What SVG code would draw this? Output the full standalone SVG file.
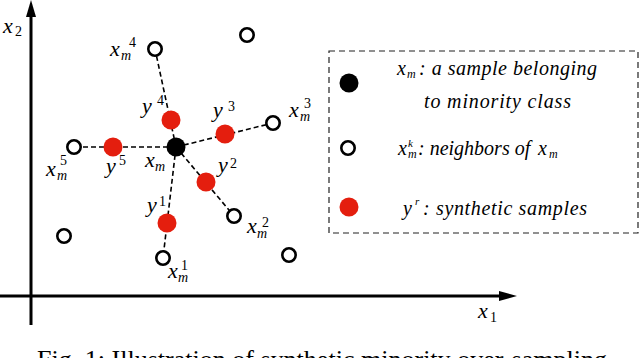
<svg xmlns="http://www.w3.org/2000/svg" width="640" height="358" viewBox="0 0 640 358">
<style>
.ax{stroke:#000;stroke-width:3;fill:none}
.ah{fill:#000}
.dash{stroke:#000;stroke-width:1.6;stroke-dasharray:5 3;fill:none}
.open{fill:#fff;stroke:#000;stroke-width:2.6}
.blk{fill:#000}
.red{fill:#e41e0e}
.m{font-family:"Liberation Serif","DejaVu Serif",serif;font-style:italic;font-size:22px;fill:#000}
.s{font-size:14px}
.d{font-style:normal;font-size:14px}
.lg{font-family:"Liberation Serif","DejaVu Serif",serif;font-style:italic;font-size:20px;fill:#000}
.cap{font-family:"Liberation Serif",serif;font-size:26px;fill:#000}
.box{fill:none;stroke:#222;stroke-width:1.2;stroke-dasharray:6 4}
</style>
<rect width="640" height="358" fill="#fff"/>
<g id="axes">
<line class="ax" x1="31" y1="12" x2="31" y2="325"/>
<polygon class="ah" points="31,0 26,17 36,17"/>
<line class="ax" x1="0" y1="296" x2="505" y2="296"/>
<polygon class="ah" points="517,296 499,291 499,301"/>
<text class="m" x="3" y="33">x<tspan class="d" x="15" y="36">2</tspan></text>
<text class="m" x="478" y="318">x<tspan class="d" x="490" y="322">1</tspan></text>
</g>
<g id="connectors">
<line class="dash" x1="176" y1="147" x2="155" y2="49"/>
<line class="dash" x1="176" y1="147" x2="273" y2="123"/>
<line class="dash" x1="176" y1="147" x2="74" y2="147"/>
<line class="dash" x1="176" y1="147" x2="234" y2="216"/>
<line class="dash" x1="176" y1="147" x2="163" y2="258"/>
</g>
<g id="xm4"><circle class="open" cx="155" cy="49" r="6.7"/><text class="m" x="110" y="56">x<tspan class="s" x="121" y="60">m</tspan><tspan class="d" x="129" y="47">4</tspan></text></g>
<g id="n-top"><circle class="open" cx="247" cy="35" r="6.7"/></g>
<g id="xm3"><circle class="open" cx="273" cy="123" r="6.7"/><text class="m" x="289" y="117">x<tspan class="s" x="300" y="121">m</tspan><tspan class="d" x="304" y="108">3</tspan></text></g>
<g id="xm5"><circle class="open" cx="74" cy="147" r="6.7"/><text class="m" x="46" y="176">x<tspan class="s" x="57" y="180">m</tspan><tspan class="d" x="60" y="165">5</tspan></text></g>
<g id="n-left"><circle class="open" cx="64" cy="236" r="6.7"/></g>
<g id="n-right"><circle class="open" cx="289" cy="255" r="6.7"/></g>
<g id="xm2"><circle class="open" cx="234" cy="216" r="6.7"/><text class="m" x="247" y="233">x<tspan class="s" x="257" y="238">m</tspan><tspan class="d" x="262" y="227">2</tspan></text></g>
<g id="xm1"><circle class="open" cx="163" cy="258" r="6.7"/><text class="m" x="168" y="278">x<tspan class="s" x="178" y="282">m</tspan><tspan class="d" x="181" y="270">1</tspan></text></g>
<g id="xm"><circle class="blk" cx="176" cy="147" r="9.5"/><text class="m" x="145" y="167">x<tspan class="s" x="155" y="171">m</tspan></text></g>
<g id="y4"><circle class="red" cx="171" cy="120" r="9.5"/><text class="m" x="142" y="113">y<tspan class="d" x="157" y="105">4</tspan></text></g>
<g id="y3"><circle class="red" cx="225" cy="134" r="9.5"/><text class="m" x="213" y="117">y<tspan class="d" x="228" y="111">3</tspan></text></g>
<g id="y5"><circle class="red" cx="113" cy="147" r="9.5"/><text class="m" x="106" y="173">y<tspan class="d" x="119" y="165">5</tspan></text></g>
<g id="y2"><circle class="red" cx="206" cy="182" r="9.5"/><text class="m" x="218" y="172">y<tspan class="d" x="230" y="168">2</tspan></text></g>
<g id="y1"><circle class="red" cx="167" cy="223" r="9.5"/><text class="m" x="147" y="212">y<tspan class="d" x="159" y="206">1</tspan></text></g>
<g id="legend">
<rect class="box" x="329" y="51" width="309" height="182"/>
<circle class="blk" cx="349" cy="83" r="9.5"/>
<circle class="open" cx="348" cy="148" r="6.7"/>
<circle class="red" cx="349" cy="207" r="9.5"/>
<text class="lg" x="397" y="75">x<tspan x="407" y="78" font-size="12">m</tspan><tspan x="419" y="75" textLength="178" lengthAdjust="spacing">: a sample belonging</tspan></text>
<text class="lg" x="424" y="108" textLength="147" lengthAdjust="spacing">to minority class</text>
<text class="lg" x="398" y="155">x<tspan x="408" y="147" font-size="11">k</tspan><tspan x="408" y="158" font-size="12">m</tspan><tspan x="418" y="155">: neighbors of </tspan><tspan x="538" y="155">x</tspan><tspan x="549" y="158" font-size="12">m</tspan></text>
<text class="lg" x="403" y="215">y<tspan x="415" y="205" font-size="11">r</tspan><tspan x="423" y="215" textLength="164" lengthAdjust="spacing">: synthetic samples</tspan></text>
</g>
<text class="cap" x="37" y="368" textLength="570" lengthAdjust="spacingAndGlyphs">Fig. 1: Illustration of synthetic minority over-sampling</text>
</svg>
